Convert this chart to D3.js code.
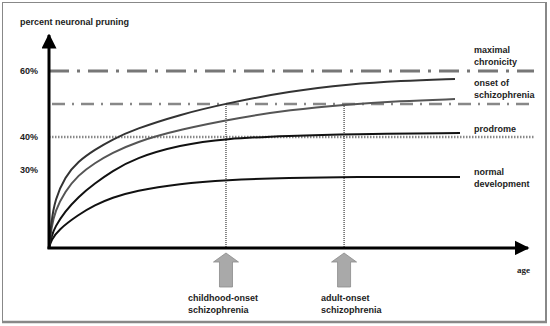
<!DOCTYPE html>
<html><head><meta charset="utf-8">
<script src="https://cdn.jsdelivr.net/npm/d3@7"></script>
<style>
html,body{margin:0;padding:0;background:#fff;}
svg{display:block;}
text{font-family:"Liberation Sans",Arial,sans-serif;font-weight:bold;font-size:9px;fill:#222;}
</style></head>
<body>
<svg id="chart" width="550" height="326"></svg>
<script>
// ---- data (schematic; age in arbitrary units 0-100, value in percent) ----
const chronicityAges = [0, 0.5, 1.25, 3.34, 6.05, 9.6, 13.15, 17.95, 27.35, 36.74, 50.3, 62.84, 73.3, 84.76];
const chronicityCurve = [6.4, 14.5, 21.0, 28.0, 32.6, 36.2, 39.2, 42.4, 46.8, 50.1, 53.9, 56.0, 57.0, 57.6];
const onsetAges = [0, 0.5, 1.25, 3.34, 6.05, 9.6, 13.15, 17.95, 27.35, 39.87, 50.3, 61.4, 73.3, 84.76];
const onsetCurve = [6.4, 12.5, 17.5, 23.5, 28.4, 32.2, 35.1, 38.4, 42.3, 45.9, 48.2, 49.8, 50.9, 51.5];
const prodromeAges = [0, 0.5, 1.25, 3.34, 6.05, 9.6, 13.15, 17.95, 27.35, 36.74, 50.3, 62.84, 85.8];
const prodromeCurve = [6.4, 9.8, 12.8, 17.4, 21.8, 26.0, 29.6, 33.6, 37.6, 39.5, 40.4, 40.9, 41.2];
const normalAges = [0, 0.5, 1.9, 6.05, 9.6, 13.15, 17.95, 27.35, 36.74, 50.3, 62.84, 85.8];
const normalCurve = [6.4, 8.8, 11.8, 16.4, 19.4, 21.6, 23.7, 25.9, 27.0, 27.6, 27.9, 27.9];
const thresholds = [60, 50, 40];            // maximal chronicity, onset, prodrome
const yTickLabels = [60, 40, 30];
const onsetMarkers = [36.95, 61.6];          // childhood-onset, adult-onset
const markerLabels = [["childhood-onset", "schizophrenia"], ["adult-onset", "schizophrenia"]];
const rightLabels = [
  {v: 60, lines: ["maximal", "chronicity"]},
  {v: 50, lines: ["onset of", "schizophrenia"]},
  {v: 40, lines: ["prodrome"]},
  {v: 30, lines: ["normal", "development"]}
];

const svg = d3.select("#chart");
const x = d3.scaleLinear().domain([0, 100]).range([49, 528]);
const y = d3.scaleLinear().domain([40, 60]).range([137, 71]);
const y0 = 6.4, yTop = 70.9;

// frame
svg.append("rect").attr("x", 2.5).attr("y", 2.5).attr("width", 543).attr("height", 319)
  .attr("fill", "none").attr("stroke", "#888").attr("stroke-width", 1);
svg.append("line").attr("x1", 546).attr("x2", 546).attr("y1", 2).attr("y2", 322).attr("stroke", "#888").attr("stroke-width", 2);
svg.append("line").attr("x1", 2).attr("x2", 547).attr("y1", 322).attr("y2", 322).attr("stroke", "#888").attr("stroke-width", 2.5);

// threshold lines
const xEnd = 534;
svg.append("line").attr("x1", x(0)).attr("x2", xEnd).attr("y1", y(thresholds[0])).attr("y2", y(thresholds[0]))
  .attr("stroke", "#777").attr("stroke-width", 3).attr("stroke-dasharray", "20,8,3,8");
svg.append("line").attr("x1", x(0)+3).attr("x2", xEnd).attr("y1", y(thresholds[1])).attr("y2", y(thresholds[1]))
  .attr("stroke", "#888").attr("stroke-width", 2.5).attr("stroke-dasharray", "13,7,2,7");
svg.append("line").attr("x1", x(0)).attr("x2", xEnd).attr("y1", y(thresholds[2])).attr("y2", y(thresholds[2]))
  .attr("stroke", "#888").attr("stroke-width", 2.5).attr("stroke-dasharray", "1.5,1.5");

// vertical dotted onset lines
onsetMarkers.forEach(a => {
  svg.append("line").attr("x1", x(a)).attr("x2", x(a)).attr("y1", y(thresholds[1])).attr("y2", y(y0))
    .attr("stroke", "#111").attr("stroke-width", 1).attr("stroke-dasharray", "1,1");
});

// curves
const line = d3.line().x(d => x(d[0])).y(d => y(d[1])).curve(d3.curveBasis);
const series = [
  {ages: normalAges, vals: normalCurve, color: "#111"},
  {ages: prodromeAges, vals: prodromeCurve, color: "#111"},
  {ages: onsetAges, vals: onsetCurve, color: "#555"},
  {ages: chronicityAges, vals: chronicityCurve, color: "#333"}
];
series.forEach(s => {
  svg.append("path").attr("d", line(s.ages.map((a, i) => [a, s.vals[i]])))
    .attr("fill", "none").attr("stroke", s.color).attr("stroke-width", 2);
});

// axes with arrows
svg.append("defs").append("marker").attr("id", "arr").attr("viewBox", "0 0 10 10")
  .attr("refX", 9).attr("refY", 5).attr("markerWidth", 5).attr("markerHeight", 5)
  .attr("markerUnits", "strokeWidth").attr("orient", "auto")
  .append("path").attr("d", "M0,0 L10,5 L0,10 z").attr("fill", "#000");
svg.append("line").attr("x1", x(0)).attr("x2", x(0)).attr("y1", y(y0)+1).attr("y2", y(yTop))
  .attr("stroke", "#000").attr("stroke-width", 3).attr("marker-end", "url(#arr)");
svg.append("line").attr("x1", x(0)-1.5).attr("x2", x(100)).attr("y1", y(y0)).attr("y2", y(y0))
  .attr("stroke", "#000").attr("stroke-width", 3).attr("marker-end", "url(#arr)");

// y labels
svg.selectAll(".ytl").data(yTickLabels).enter().append("text")
  .attr("x", 38).attr("y", d => y(d) + 3).attr("text-anchor", "end").text(d => d + "%");
svg.append("text").attr("x", 20).attr("y", 25).text("percent neuronal pruning");
svg.append("text").attr("x", 530).attr("y", 273).attr("text-anchor", "end")
  .style("font-family", "'Liberation Serif',serif").text("age");

// right labels
rightLabels.forEach(r => {
  const n = r.lines.length;
  r.lines.forEach((t, i) => {
    const base = y(r.v) - (n === 2 ? (r.v === 30 ? -5 : 18) : 5) + i * 12;
    svg.append("text").attr("x", 474).attr("y", base).text(t);
  });
});

// arrows at onset markers
onsetMarkers.forEach((a, k) => {
  const cx = x(a);
  const p = `M${cx},253 L${cx+12.5},262 L${cx+6.5},262 L${cx+6.5},287 L${cx-6.5},287 L${cx-6.5},262 L${cx-12.5},262 Z`;
  svg.append("path").attr("d", p).attr("fill", "#a9a9a9").attr("stroke", "#8a8a8a").attr("stroke-width", 0.8);
  markerLabels[k].forEach((t, i) => {
    svg.append("text").attr("x", cx - (k === 0 ? 38 : 23)).attr("y", 301 + i * 12).text(t);
  });
});
</script>
</body></html>
